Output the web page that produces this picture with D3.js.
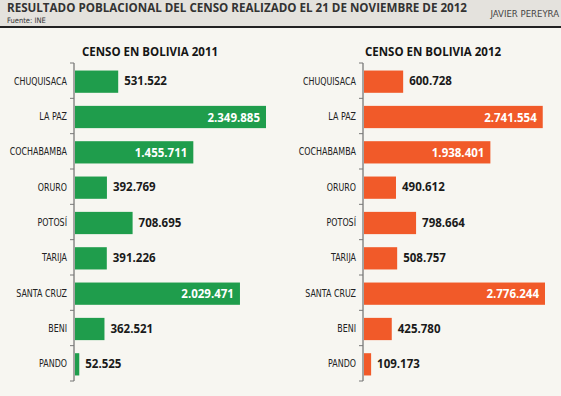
<!DOCTYPE html>
<html>
<head>
<meta charset="utf-8">
<script src="https://cdn.jsdelivr.net/npm/d3@7"></script>
<style>
    body{ margin:0; background:#f7f6f1; }
</style>
</head>
<body>
<div id="canvas"></div>
<script>

// data
const departamentos = ["CHUQUISACA", "LA PAZ", "COCHABAMBA", "ORURO", "POTOSÍ", "TARIJA", "SANTA CRUZ", "BENI", "PANDO"];
const censo2011 = [531522, 2349885, 1455711, 392769, 708695, 391226, 2029471, 362521, 52525];
const censo2012 = [600728, 2741554, 1938401, 490612, 798664, 508757, 2776244, 425780, 109173];

const titulo = "RESULTADO POBLACIONAL DEL CENSO REALIZADO EL 21 DE NOVIEMBRE DE 2012";
const fuente = "Fuente: INE";
const autor = "JAVIER PEREYRA";
const titulos = ["CENSO EN BOLIVIA 2011", "CENSO EN BOLIVIA 2012"];

const width = 561;
const height = 396;

// numbers like 2.349.885
const locale = d3.formatLocale({decimal: ",", thousands: ".", grouping: [3], currency: ["", ""]});
const fmt = locale.format(",d");

const svg = d3.select("#canvas")
    .append("svg")
    .attr("width", width)
    .attr("height", height)
    .attr("viewBox", [0, 0, width, height])
    .style("display", "block");

svg.append("rect")
    .attr("width", width)
    .attr("height", height)
    .attr("fill", "#f7f6f1");

// header
svg.append("rect")
    .attr("width", width)
    .attr("height", 27)
    .attr("fill", "#e4e2dd");

svg.append("line")
    .attr("x1", 0).attr("x2", width)
    .attr("y1", 27).attr("y2", 27)
    .attr("stroke", "#222")
    .attr("stroke-width", 2);

svg.append("text")
    .attr("x", 7)
    .attr("y", 12)
    .attr("textLength", 460)
    .attr("lengthAdjust", "spacingAndGlyphs")
    .style("font-family", "'Open Sans', sans-serif")
    .style("font-weight", "bold")
    .style("font-size", "11.5px")
    .attr("fill", "#333")
    .text(titulo);

svg.append("text")
    .attr("x", 7)
    .attr("y", 23)
    .style("font-family", "'Liberation Sans Narrow', 'DejaVu Sans Condensed', sans-serif")
    .style("font-size", "7.5px")
    .attr("fill", "#333")
    .text(fuente);

svg.append("text")
    .attr("x", 559)
    .attr("y", 17)
    .attr("text-anchor", "end")
    .style("font-family", "'Liberation Sans Narrow', 'DejaVu Sans Condensed', sans-serif")
    .style("font-size", "9.5px")
    .attr("fill", "#444")
    .text(autor);


function drawPanel(values, title, color, axisX, maxX, titleX){

    let y = d3.scaleBand()
        .domain(departamentos)
        .range([63, 381])
        .padding(0);

    let x = d3.scaleLinear()
        .domain([0, d3.max(values)])
        .range([axisX + 1, maxX]);

    let g = svg.append("g");
    let barH = y.bandwidth() * 0.63;
    let rows = departamentos.map((d, i) => ({name: d, value: values[i]}));

    g.append("text")
        .attr("x", titleX)
        .attr("y", 55.5)
        .style("font-family", "'Open Sans', sans-serif")
        .style("font-weight", "bold")
        .style("font-size", "11.5px")
        .attr("fill", "#151515")
        .text(title);

    g.selectAll(".bar")
        .data(rows)
        .enter()
        .append("rect")
        .attr("class", "bar")
        .attr("x", x(0))
        .attr("y", d => y(d.name) + (y.bandwidth() - barH)/2 + 1)
        .attr("width", d => x(d.value) - x(0))
        .attr("height", barH)
        .attr("fill", color);

    // axis line and the little ticks between categories
    let bounds = departamentos.map(d => y(d)).concat([y.range()[1]]);

    g.append("line")
        .attr("x1", axisX).attr("x2", axisX)
        .attr("y1", y.range()[0]).attr("y2", y.range()[1])
        .attr("stroke", "#555")
        .attr("stroke-width", 1);

    g.selectAll(".tick")
        .data(bounds)
        .enter()
        .append("line")
        .attr("class", "tick")
        .attr("x1", axisX - 4).attr("x2", axisX)
        .attr("y1", d => d).attr("y2", d => d)
        .attr("stroke", "#777")
        .attr("stroke-width", 1);

    // category names, narrow type
    g.selectAll(".cat")
        .data(rows)
        .enter()
        .append("text")
        .attr("class", "cat")
        .attr("text-anchor", "end")
        .attr("transform", d => "translate(" + (axisX - 7) + "," + (y(d.name) + y.bandwidth()/2 + 4) + ") scale(0.84,1)")
        .style("font-family", "'Liberation Sans Narrow', 'DejaVu Sans Condensed', sans-serif")
        .style("font-size", "10.5px")
        .attr("fill", "#222")
        .text(d => d.name);

    // values, white inside the long bars
    g.selectAll(".val")
        .data(rows)
        .enter()
        .append("text")
        .attr("class", "val")
        .attr("x", d => d.value > 1000000 ? x(d.value) - 6 : x(d.value) + 6)
        .attr("y", d => y(d.name) + y.bandwidth()/2 + (d.value > 1000000 ? 5.5 : 4.5))
        .attr("text-anchor", d => d.value > 1000000 ? "end" : "start")
        .style("font-family", "'Open Sans', sans-serif")
        .style("font-weight", "bold")
        .style("font-size", "11.5px")
        .attr("fill", d => d.value > 1000000 ? "#fff" : "#1a1a1a")
        .text(d => fmt(d.value));
}

drawPanel(censo2011, titulos[0], "#1f9d4c", 74, 266, 82);
drawPanel(censo2012, titulos[1], "#f15a29", 363, 545, 365);

</script>
</body>
</html>
